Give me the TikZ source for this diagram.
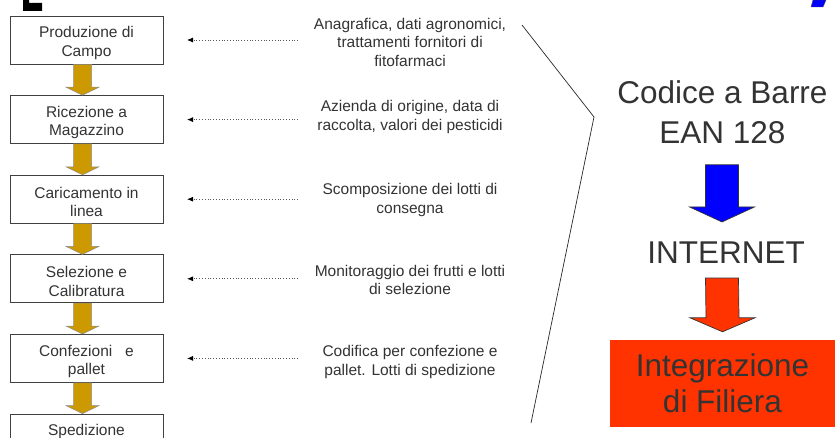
\documentclass[tikz,border=0pt]{standalone}
\usepackage{fontspec}
\setmainfont{Liberation Sans}
\usetikzlibrary{calc,arrows.meta}
\definecolor{gold}{HTML}{CC9900}
\definecolor{txt}{HTML}{333333}
\definecolor{myblue}{HTML}{0000FF}
\definecolor{myred}{HTML}{FF3300}
\newcommand\blockarrow[6]{\filldraw[#1] ($(#2)+(-#4,0)$) -- ($(#3)+(-#4,-#6)$) -- ($(#3)+(-#5,-#6)$) -- (#3) -- ($(#3)+(#5,-#6)$) -- ($(#3)+(#4,-#6)$) -- ($(#2)+(#4,0)$) -- cycle;}
\newcommand\tstrut{\rule{0pt}{17pt}}
\begin{document}
\begin{tikzpicture}[x=1pt,y=-1pt,
  stepbox/.style={draw=black!75, line width=0.8pt, minimum width=153pt, minimum height=48pt,
    inner sep=0pt, align=center, text=txt, font=\fontsize{15.5}{18.5}\selectfont},
  info/.style={align=center, text=txt, font=\fontsize{15.5}{18.5}\selectfont, inner sep=0pt},
  big/.style={align=center, text=txt, font=\fontsize{31.5}{40}\selectfont, inner sep=0pt},
  redbox/.style={fill=myred, minimum width=225pt, minimum height=87pt, inner sep=0pt,
    align=center, text=txt, font=\fontsize{31.5}{36}\selectfont},
  dotarrow/.style={draw=black!65, dotted, line width=0.8pt, -{Latex[length=6pt,width=5pt,black]}},
  goldarr/.style={fill=gold, draw=black!45, line width=0.5pt},
  bluearr/.style={fill=myblue, draw=black!80, line width=0.7pt},
  redarr/.style={fill=myred, draw=black!80, line width=0.7pt},
  brace/.style={draw=black!85, line width=0.7pt}]
\useasboundingbox (0,0) rectangle (835,438);
\clip (0,0) rectangle (835,438);

% corner remnants
\fill[black] (23,0) -- (29,0) -- (29,3) -- (42,3) -- (42,11) -- (23,11) -- cycle;
\filldraw[fill=myblue, draw=black!70, line width=0.4pt] (813,0) -- (826,0) -- (823,7) -- (811,7) -- cycle;

% left process boxes
\node[stepbox] (b1) at (86.5,40) {\tstrut Produzione di\\Campo};
\node[stepbox] (b2) at (86.5,119.6) {\tstrut Ricezione a\\Magazzino};
\node[stepbox] (b3) at (86.5,199.2) {\tstrut Caricamento in\\linea};
\node[stepbox] (b4) at (86.5,278.8) {\tstrut Selezione e\\Calibratura};
\node[stepbox] (b5) at (86.5,358.4) {\tstrut Confezioni\ \ \ e\\pallet};
\node[stepbox] (b6) at (86.5,438) {\raisebox{3pt}[0pt][0pt]{Spedizione}};

% gold arrows
\foreach \a/\b in {b1/b2,b2/b3,b3/b4,b4/b5,b5/b6}{
  \coordinate (gt) at ($(\a.south)+(-4,0)$);
  \coordinate (gp) at ($(\b.north)+(-4,0)$);
  \blockarrow{goldarr}{gt}{gp}{9}{16.5}{8}
}

% info texts
\node[info] (t1) at (410,42) {Anagrafica, dati agronomici,\\trattamenti fornitori di\\fitofarmaci};
\node[info] (t2) at (410,117) {Azienda di origine, data di\\raccolta, valori dei pesticidi};
\node[info] (t3) at (410,200) {Scomposizione dei lotti di\\consegna};
\node[info] (t4) at (410,280) {Monitoraggio dei frutti e lotti\\di selezione};
\node[info] (t5) at (410,362) {Codifica per confezione e\\pallet. Lotti di spedizione};

% dotted arrows
\coordinate (ds) at (298,0);
\coordinate (de) at (187,0);
\foreach \b in {b1,b2,b3,b4,b5}{
  \draw[dotarrow] (\b.east -| ds) -- (\b.east -| de);
}

% angle line
\coordinate (l1) at (522,25);
\coordinate (l2) at (594,117);
\coordinate (l3) at (531,423);
\draw[brace] (l1) -- (l2) -- (l3);

% right column
\node[big] (codice) at (722.5,112) {Codice a Barre\\EAN 128};
\node[big] (inet) at (726,253) {INTERNET};
\node[redbox] (integ) at (722.5,383.5) {Integrazione\\di Filiera};

\coordinate (bt) at ($(codice.south)+(-0.5,21)$);
\coordinate (bp) at ($(inet.north)+(-4,-20)$);
\blockarrow{bluearr}{bt}{bp}{16.5}{32.5}{15}
\coordinate (rt) at ($(inet.south)+(-4,14)$);
\coordinate (rp) at ($(integ.north)+(0,-8)$);
\blockarrow{redarr}{rt}{rp}{16.5}{32.5}{14}
\end{tikzpicture}
\end{document}
